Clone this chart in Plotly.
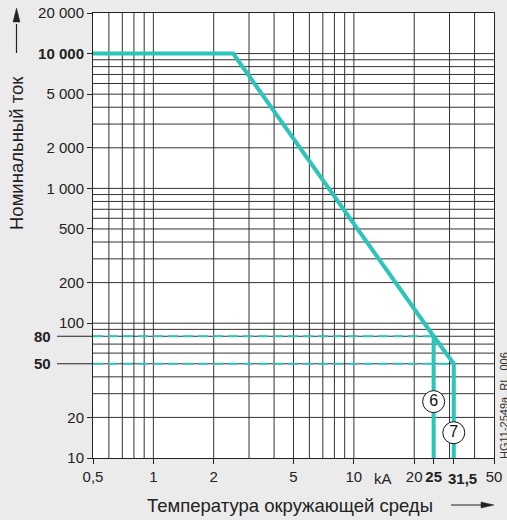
import math
import plotly.graph_objects as go

# Rated current (A) versus short-circuit current (kA)
curve_ka = [0.5, 2.5, 25, 31.5, 31.5]
curve_a = [10000, 10000, 80, 50, 10]
drop_ka = [25, 25]
drop_a = [80, 10]

# Dashed reference levels
level80_ka = [0.5, 25]
level80_a = [80, 80]
level50_ka = [0.5, 31.5]
level50_a = [50, 50]

# Circled curve numbers
badge_ka = [25, 31.5]
badge_a = [26.2, 15.4]
badge_text = ["6", "7"]

x_tick_vals = [0.5, 1, 2, 5, 10, 20, 25, 31.5, 50]
x_tick_text = ["0,5", "1", "2", "5", "10", "20", "<b>25</b>", "", "50"]
x_offset_label = (31.5, "<b>31,5</b>")
y_tick_vals = [10, 20, 100, 200, 500, 1000, 2000, 5000, 10000, 20000]
y_tick_text = ["10", "20", "100", "200", "500", "1 000", "2 000", "5 000",
               "<b>10 000</b>", "20 000"]
y_extra_ticks = [80, 50]

x_grid = [0.6, 0.7, 0.8, 0.9, 1, 2, 3, 4, 5, 6, 7, 8, 9, 10, 20, 30, 40]
y_grid = [20, 30, 40, 50, 60, 70, 80, 90,
          100, 200, 300, 400, 500, 600, 700, 800, 900,
          1000, 2000, 3000, 4000, 5000, 6000, 7000, 8000, 9000, 10000]

X_RANGE = (0.5, 50)
Y_RANGE = (10, 20000)

W, H = 507, 520
ML, MR, MT, MB = 93, 13, 13, 62
PW, PH = W - ML - MR, H - MT - MB

TEAL = "#2cc5b9"
GRID = "#333333"
INK = "#222222"
FONT = "Liberation Sans, Arial, sans-serif"


def px_x(px):
    """Pixel column -> paper x."""
    return (px - ML) / PW


def px_y(py):
    """Pixel row -> paper y."""
    return (H - MB - py) / PH


fig = go.Figure()

# grid lines
gx, gy = [], []
for v in x_grid:
    gx += [v, v, None]
    gy += [Y_RANGE[0], Y_RANGE[1], None]
fig.add_trace(go.Scatter(x=gx, y=gy, mode="lines", line=dict(color=GRID, width=1),
                         hoverinfo="skip", showlegend=False))
hx, hy = [], []
for v in y_grid:
    hx += [X_RANGE[0], X_RANGE[1], None]
    hy += [v, v, None]
fig.add_trace(go.Scatter(x=hx, y=hy, mode="lines", line=dict(color=GRID, width=1),
                         hoverinfo="skip", showlegend=False))

# dashed levels
for xs, ys in [(level80_ka, level80_a), (level50_ka, level50_a)]:
    fig.add_trace(go.Scatter(x=xs, y=ys, mode="lines",
                             line=dict(color=TEAL, width=2, dash="10px,5px"),
                             hoverinfo="skip", showlegend=False))

# characteristic
fig.add_trace(go.Scatter(x=curve_ka, y=curve_a, mode="lines",
                         line=dict(color=TEAL, width=4),
                         hoverinfo="skip", showlegend=False))
fig.add_trace(go.Scatter(x=drop_ka, y=drop_a, mode="lines",
                         line=dict(color=TEAL, width=4),
                         hoverinfo="skip", showlegend=False))

# circled numbers
fig.add_trace(go.Scatter(x=badge_ka, y=badge_a, mode="markers+text",
                         text=badge_text, textposition="middle center",
                         textfont=dict(family=FONT, size=16, color="#111"),
                         marker=dict(symbol="circle", size=22, color="white",
                                     line=dict(color="#111", width=1)),
                         hoverinfo="skip", showlegend=False, cliponaxis=False))


def y_frac(v):
    lo, hi = math.log10(Y_RANGE[0]), math.log10(Y_RANGE[1])
    return (math.log10(v) - lo) / (hi - lo)


shapes = []
annotations = []
for v in y_extra_ticks:
    shapes.append(dict(type="line", xref="paper", yref="paper",
                       x0=px_x(57), x1=0, y0=y_frac(v), y1=y_frac(v),
                       line=dict(color=INK, width=1)))
    annotations.append(dict(xref="paper", yref="y", x=px_x(53), y=math.log10(v),
                            xanchor="right", yanchor="middle", showarrow=False,
                            text=f"<b>{v}</b>",
                            font=dict(family=FONT, size=15, color=INK)))

annotations.append(dict(xref="x", yref="paper", x=math.log10(14), y=-0.023,
                        xanchor="center", yanchor="top", showarrow=False, text="kA",
                        font=dict(family=FONT, size=15, color=INK)))
annotations.append(dict(xref="x", yref="paper", x=math.log10(x_offset_label[0]),
                        y=-0.023, xshift=9, xanchor="center", yanchor="top",
                        showarrow=False, text=x_offset_label[1],
                        font=dict(family=FONT, size=15, color=INK)))

# axis titles
annotations.append(dict(xref="paper", yref="paper", x=0.4925, y=px_y(505),
                        xanchor="center", yanchor="middle", showarrow=False,
                        text="Температура окружающей среды",
                        font=dict(family=FONT, size=18.5, color=INK)))
annotations.append(dict(xref="paper", yref="paper", x=px_x(16), y=px_y(153),
                        xanchor="center", yanchor="middle", showarrow=False,
                        textangle=-90, text="Номинальный ток",
                        font=dict(family=FONT, size=18.5, color=INK)))
annotations.append(dict(xref="paper", yref="paper", x=px_x(504), y=px_y(406),
                        xanchor="center", yanchor="middle", showarrow=False,
                        textangle=-90, text="HG11-2549a_RL_006",
                        font=dict(family=FONT, size=11, color="#333")))

# title arrows: shaft + filled head
shapes.append(dict(type="line", xref="paper", yref="paper",
                   x0=px_x(451), x1=px_x(484), y0=px_y(505), y1=px_y(505),
                   line=dict(color=INK, width=1.2)))
shapes.append(dict(type="path", xref="paper", yref="paper",
                   path=(f"M {px_x(494)} {px_y(505)} L {px_x(481)} {px_y(502)} "
                         f"L {px_x(481)} {px_y(508)} Z"),
                   fillcolor=INK, line=dict(color=INK, width=0.5)))
shapes.append(dict(type="line", xref="paper", yref="paper",
                   x0=px_x(16.5), x1=px_x(16.5), y0=px_y(53), y1=px_y(24),
                   line=dict(color=INK, width=1.2)))
shapes.append(dict(type="path", xref="paper", yref="paper",
                   path=(f"M {px_x(16.5)} {px_y(8)} L {px_x(13)} {px_y(22)} "
                         f"L {px_x(20)} {px_y(22)} Z"),
                   fillcolor=INK, line=dict(color=INK, width=0.5)))

fig.update_layout(
    width=W, height=H, autosize=False,
    margin=dict(l=ML, r=MR, t=MT, b=MB, pad=0),
    paper_bgcolor="#ebebeb", plot_bgcolor="white",
    font=dict(family=FONT, size=15, color=INK),
    shapes=shapes, annotations=annotations,
    xaxis=dict(type="log", range=[math.log10(X_RANGE[0]), math.log10(X_RANGE[1])],
               tickmode="array", tickvals=x_tick_vals, ticktext=x_tick_text,
               tickangle=0, automargin=False,
               ticks="outside", ticklen=5, tickcolor=INK, showgrid=False,
               zeroline=False, showline=True, linecolor=INK, linewidth=1, mirror=True,
               tickfont=dict(family=FONT, size=15, color=INK)),
    yaxis=dict(type="log", range=[math.log10(Y_RANGE[0]), math.log10(Y_RANGE[1])],
               tickmode="array", tickvals=y_tick_vals, ticktext=y_tick_text,
               automargin=False,
               ticks="outside", ticklen=5, tickcolor=INK, showgrid=False,
               zeroline=False, showline=True, linecolor=INK, linewidth=1, mirror=True,
               tickfont=dict(family=FONT, size=15, color=INK)),
)

fig.write_html("out.html")
